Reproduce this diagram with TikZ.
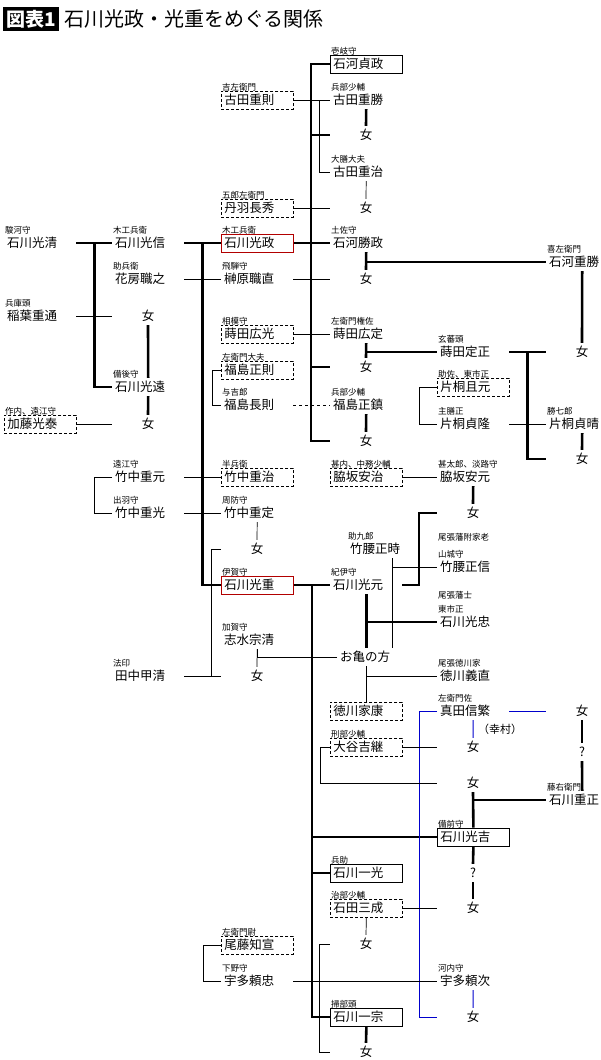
\documentclass[tikz,border=0pt]{standalone}
\usepackage{fontspec}
\setmainfont{Noto Sans CJK JP}
\usetikzlibrary{calc}

% person node: style, name, west x, y, title, name text
\newcommand\pp[6][]{%
  \node [pers, #1] (#2) at (#3,#4) {#6};
  \node [lab] at ($(#2.west)+(1,-13)$) {#5};}
\newcommand\fm[4][女]{\node [fem] (#2) at (#3,#4) {#1};}

\begin{document}
\begin{tikzpicture}
    [
        x = 1pt, y = -1pt,
        pers/.style  = {anchor=west, text width=66pt, inner xsep=3pt, inner ysep=0pt,
                        minimum height=18pt, align=left, font=\fontsize{12.5}{13}\selectfont},
        fem/.style   = {pers, anchor=center, align=center},
        lab/.style   = {anchor=west, inner sep=0pt, font=\fontsize{8.5}{9}\selectfont},
        kbox/.style  = {draw, line width=0.8pt},
        dbox/.style  = {draw, densely dashed, line width=0.7pt},
        rbox/.style  = {draw=red!70!black, line width=0.9pt},
        T/.style     = {line width=2.6pt},
        t/.style     = {line width=0.7pt},
        B/.style     = {line width=1pt, draw=blue!80!black},
    ]
    \useasboundingbox (0,0) rectangle (600,1060);
    % title
    \node [fill=black, text=white, inner xsep=3pt, inner ysep=3pt, anchor=west,
           font=\fontsize{19}{20}\selectfont\bfseries] (ttl) at (3,19) {図表1};
    \node [anchor=west, inner sep=0pt, font=\fontsize{20}{21}\selectfont]
        (ttx) at ($(ttl.east)+(5,0)$) {石川光政・光重をめぐる関係};

    % column A
    \pp{kiyo}{4}{243}{駿河守}{石川光清}
    \pp{inaba}{4}{316}{兵庫頭}{稲葉重通}
    \pp[dbox]{kato}{4}{424}{作内、遠江守}{加藤光泰}
    % column B
    \pp{nobu}{112}{243}{木工兵衛}{石川光信}
    \pp{hanafusa}{112}{279}{助兵衛}{花房職之}
    \fm{fB1}{148}{316}
    \pp{too}{112}{387}{備後守}{石川光遠}
    \fm{fB2}{148}{424}
    \pp{shmoto}{112}{477}{遠江守}{竹中重元}
    \pp{shmitsu}{112}{513}{出羽守}{竹中重光}
    \pp{tanaka}{112}{676}{法印}{田中甲清}
    % column C
    \pp[dbox]{furuta}{221}{100}{吉左衛門}{古田重則}
    \pp[dbox]{niwa}{221}{208}{五郎左衛門}{丹羽長秀}
    \pp[rbox]{masa}{221}{243}{木工兵衛}{石川光政}
    \pp{sakaki}{221}{279}{飛騨守}{榊原職直}
    \pp[dbox]{hiromitsu}{221}{334}{相模守}{蒔田広光}
    \pp[dbox]{masanori}{221}{370}{左衛門大夫}{福島正則}
    \pp{naganori}{221}{405}{与吉郎}{福島長則}
    \pp[dbox]{hanbei}{221}{477}{半兵衛}{竹中重治}
    \pp{shsada}{221}{513}{周防守}{竹中重定}
    \fm{fC1}{257}{549}
    \pp[rbox]{shige}{221}{585}{伊賀守}{石川光重}
    \pp{shimizu}{221}{640}{加賀守}{志水宗清}
    \fm{fC2}{257}{676}
    \pp[dbox]{bito}{221}{945}{左衛門尉}{尾藤知宣}
    \pp{yoritada}{221}{981}{下野守}{宇多頼忠}
    % column D
    \pp[kbox]{sadamasa}{330}{64}{壱岐守}{石河貞政}
    \pp{katsu}{330}{100}{兵部少輔}{古田重勝}
    \fm{fD1}{366}{135}
    \pp{shharu}{330}{172}{大膳大夫}{古田重治}
    \fm{fD2}{366}{208}
    \pp{katsumasa}{330}{243}{土佐守}{石河勝政}
    \fm{fD3}{366}{279}
    \pp{hirosada}{330}{334}{左衛門権佐}{蒔田広定}
    \fm{fD4}{366}{367}
    \pp{masashige}{330}{405}{兵部少輔}{福島正鎮}
    \fm{fD5}{366}{441}
    \pp[dbox]{yasuharu}{330}{477}{甚内、中務少輔}{脇坂安治}
    \pp{masatoki}{347}{549}{助九郎}{竹腰正時}
    \pp{mitsumoto}{330}{585}{紀伊守}{石川光元}
    \node [pers] (okame) at (337,657) {お亀の方};
    \node [pers, dbox] (ieyasu) at (330,711) {徳川家康};
    \pp[dbox]{otani}{330}{747}{刑部少輔}{大谷吉継}
    \pp[kbox]{kazumitsu}{330}{873}{兵助}{石川一光}
    \pp[dbox]{mitsunari}{330}{908}{治部少輔}{石田三成}
    \fm{fD6}{366}{944}
    \pp[kbox]{kazumune}{330}{1017}{掃部頭}{石川一宗}
    \fm{fD7}{366}{1052}
    % column E
    \pp{sadamasa2}{437}{352}{玄蕃頭}{蒔田定正}
    \pp[dbox]{katsumoto}{437}{387}{助佐、東市正}{片桐且元}
    \pp{sadataka}{437}{424}{主膳正}{片桐貞隆}
    \pp{yasumoto}{437}{477}{甚太郎、淡路守}{脇坂安元}
    \fm{fE1}{473}{513}
    \pp{masanobu}{437}{567}{山城守}{竹腰正信}
    \node [lab] at (438,537) {尾張藩附家老};
    \pp{mitsutada}{437}{622}{東市正}{石川光忠}
    \node [lab] at (438,595) {尾張藩士};
    \pp{yoshinao}{437}{676}{尾張徳川家}{徳川義直}
    \pp{sanada}{437}{711}{左衛門佐}{真田信繁}
    \node [lab, font=\fontsize{11}{12}\selectfont] (yuki) at (478,729) {（幸村）};
    \fm{fE2}{473}{747}
    \fm{fE3}{473}{783}
    \pp[kbox]{mitsuyoshi}{437}{837}{備前守}{石川光吉}
    \fm[?]{qE}{473}{873}
    \fm{fE4}{473}{908}
    \pp{yoritsugu}{437}{981}{河内守}{宇多頼次}
    \fm{fE5}{473}{1017}
    % column F
    \pp{katsu2}{546}{262}{喜左衛門}{石河重勝}
    \fm{fF1}{582}{352}
    \pp{sadaharu}{546}{424}{勝七郎}{片桐貞晴}
    \fm{fF2}{582}{459}
    \fm{fF3}{582}{711}
    \fm[?]{qF}{582}{752}
    \pp{shmasa}{546}{800}{藤右衛門}{石川重正}

    % Ishikawa line, upper part
    \draw [T] (kiyo.east) -- (nobu.west);
    \draw [T] ($(kiyo.east)!.5!(nobu.west)$) |- (too.west);
    \draw [t] (inaba.east) -- (fB1.west);
    \draw [T] (fB1.south) -- (too.north);
    \draw [T] (too.south) -- (fB2.north);
    \draw [t] (kato.east) -- (fB2.west);
    \draw [T] (nobu.east) -- (masa.west);
    \draw [T] ($(nobu.east)!.5!(masa.west)$) |- (shige.west);
    \draw [t] (hanafusa.east) -- (sakaki.west);
    \draw [t] (shmoto.west) -- ++(-18,0) |- (shmitsu.west);
    \draw [t] (shmoto.east) -- (hanbei.west);
    \draw [t] (shmitsu.east) -- (shsada.west);
    \draw [t] (shsada.south) -- (fC1.north);
    \draw [t] (fC1.west) -- ++(-9,0) |- (fC2.west);
    \draw [t] (tanaka.east) -- (fC2.west);
    \draw [t] (shimizu.south) -- (fC2.north);
    \draw [t] (okame.west) -| (shimizu.south);

    % children of Mitsumasa
    \draw [T] (sadamasa.west) -| ($(fD5.west)+(-19,0)$) -- (fD5.west);
    \draw [T] (fD1.west) -- ++(-19,0);
    \draw [T] (fD4.west) -- ++(-19,0);
    \draw [T] (masa.east) -- (katsumasa.west);
    \draw [t] (furuta.east) -- (katsu.west);
    \draw [t] (katsu.west) ++(-11,0) |- (shharu.west);
    \draw [T] (katsu.south) -- (fD1.north);
    \draw [t] (shharu.south) -- (fD2.north);
    \draw [t] (niwa.east) -- (fD2.west);
    \draw [t] (sakaki.east) -- (fD3.west);
    \draw [T] (katsumasa.south) -- (fD3.north);
    \draw [T] (katsumasa.south |- katsu2.west) -- (katsu2.west);
    \draw [T] (katsu2.south) -- (fF1.north);
    \draw [t] (hiromitsu.east) -- (hirosada.west);
    \draw [T] (hirosada.south) -- (fD4.north);
    \draw [T] (hirosada.south |- sadamasa2.west) -- (sadamasa2.west);
    \draw [T] (sadamasa2.east) -- (fF1.west);
    \draw [T] ($(sadamasa2.east)!.5!(fF1.west)$) |- (fF2.west);
    \draw [t] (masanori.west) -- ++(-9,0) |- (naganori.west);
    \draw [t, dashed] (naganori.east) -- (masashige.west);
    \draw [T] (masashige.south) -- (fD5.north);
    \draw [t] (katsumoto.west) -- ++(-18,0) |- (sadataka.west);
    \draw [t] (sadataka.east) -- (sadaharu.west);
    \draw [T] (sadaharu.south) -- (fF2.north);
    \draw [t] (yasuharu.east) -- (yasumoto.west);
    \draw [T] (yasumoto.south) -- (fE1.north);

    % children of Mitsushige
    \draw [T] (fE1.west) -- ++(-18,0) |- (mitsumoto.east);
    \draw [T] (shige.east) -- (mitsumoto.west);
    \draw [T] ($(shige.east)!.5!(mitsumoto.west)$) |- (kazumune.west);
    \draw [T] (mitsuyoshi.west) -- ++(-126,0);
    \draw [T] (kazumitsu.west) -- ++(-19,0);
    \draw [t] ($(masatoki.south)+(9,0)$) coordinate (mt) -- (mt |- okame.north);
    \draw [t] (mt |- masanobu.west) -- (masanobu.west);
    \draw [T] (mitsumoto.south) -- (mitsumoto.south |- okame.north);
    \draw [T] (mitsumoto.south |- mitsutada.west) -- (mitsutada.west);
    \draw [t] (mitsumoto.south |- okame.south) -- (mitsumoto.south |- ieyasu.north);
    \draw [t] (mitsumoto.south |- yoshinao.west) -- (yoshinao.west);
    \draw [B] (sanada.east) -- (fF3.west);
    \draw [B] (sanada.south) -- (fE2.north);
    \draw [B] (sanada.west) -- ++(-18,0) |- (fE5.west);
    \draw [t] (otani.east) -- (fE2.west);
    \draw [t] (otani.west) -- ++(-10,0) |- (fE3.west);
    \draw [T] (fF3.south) -- (qF.north);
    \draw [T] (qF.south) -- (shmasa.north);
    \draw [T] (fE3.south) -- (mitsuyoshi.north);
    \draw [T] (fE3.south |- shmasa.west) -- (shmasa.west);
    \draw [T] (mitsuyoshi.south) -- (qE.north);
    \draw [T] (qE.south) -- (fE4.north);
    \draw [t] (mitsunari.east) -- (fE4.west);
    \draw [t] (mitsunari.south) -- (fD6.north);
    \draw [t] (fD6.west) -- ++(-10,0) |- (fD7.west);
    \draw [t] (bito.west) -- ++(-18,0) |- (yoritada.west);
    \draw [t] (yoritada.east) -- (yoritsugu.west);
    \draw [B] (yoritsugu.south) -- (fE5.north);
    \draw [T] (kazumune.south) -- (fD7.north);
\end{tikzpicture}
\end{document}
